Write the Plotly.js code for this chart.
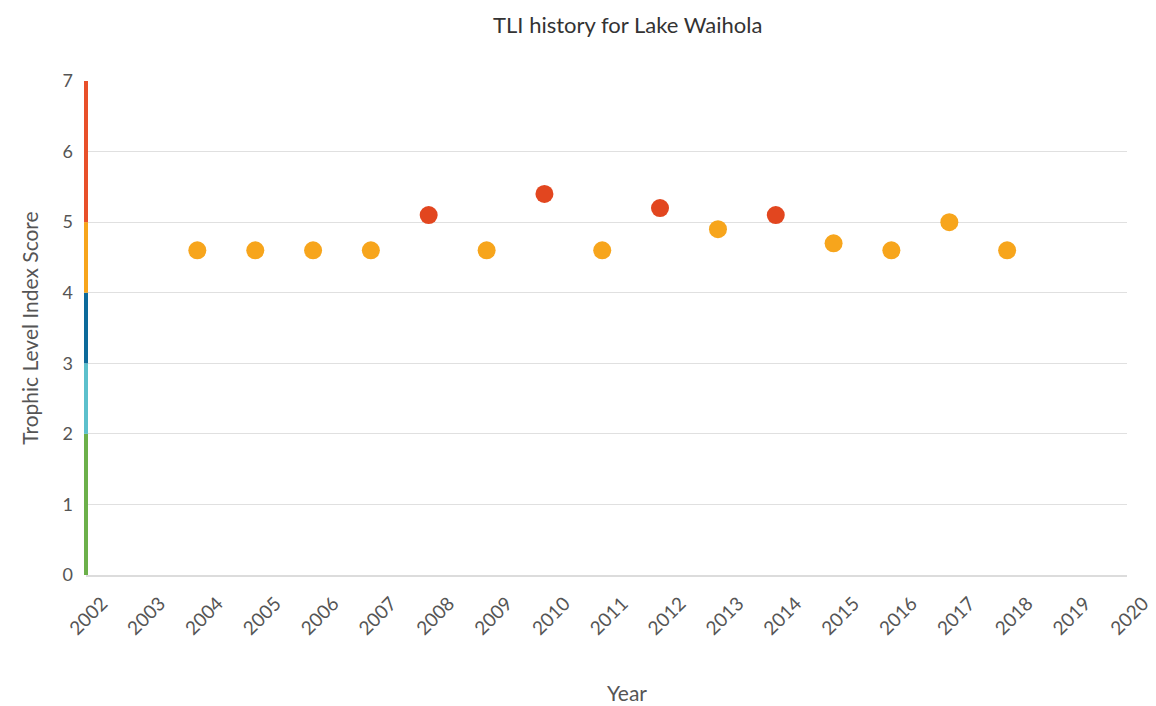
<!DOCTYPE html>
<html>
<head>
<meta charset="utf-8">
<script src="https://cdn.plot.ly/plotly-3.0.1.min.js"></script>
<style>html,body{margin:0;padding:0;background:#fff;}#chart{width:1156px;height:706px;}</style>
</head>
<body>
<div id="chart"></div>
<script>
// Sample dates and TLI scores
var sampleDates = ["2003-12-05","2004-12-05","2005-12-05","2006-12-05","2007-12-05","2008-12-05","2009-12-05","2010-12-05","2011-12-05","2012-12-05","2013-12-05","2014-12-05","2015-12-05","2016-12-05","2017-12-05"];
var tliScores = [4.6, 4.6, 4.6, 4.6, 5.1, 4.6, 5.4, 4.6, 5.2, 4.9, 5.1, 4.7, 4.6, 5.0, 4.6];

// Trophic bands along the y axis
var bandFrom = [0, 2, 3, 4, 5];
var bandTo = [2, 3, 4, 5, 7];
var bandColors = ["#6cb04a", "#5cc0cc", "#0d6a9a", "#f7a51c", "#e8502a"];
var markerBandColors = ["#6cb04a", "#5cc0cc", "#0d6a9a", "#f7a51c", "#e2461f"];

// X axis tick labels
var yearTicks = ["2002","2003","2004","2005","2006","2007","2008","2009","2010","2011","2012","2013","2014","2015","2016","2017","2018","2019","2020"];

function colorFor(v) {
  for (var i = 0; i < bandFrom.length; i++) {
    if (v > bandFrom[i] && v <= bandTo[i]) return markerBandColors[i];
  }
  return markerBandColors[0];
}

var trace = {
  x: sampleDates,
  y: tliScores,
  type: "scatter",
  mode: "markers",
  marker: { size: 18, color: tliScores.map(colorFor) },
  hoverinfo: "x+y",
  showlegend: false
};

var shapes = bandFrom.map(function (f, i) {
  return {
    type: "line", xref: "paper", yref: "y",
    x0: 0, x1: 0, y0: f, y1: bandTo[i],
    line: { color: bandColors[i], width: 4 },
    layer: "above"
  };
});

var layout = {
  width: 1156, height: 706,
  margin: { l: 86, r: 29, t: 81, b: 131 },
  paper_bgcolor: "#ffffff",
  plot_bgcolor: "#ffffff",
  font: { family: "Lato, 'Open Sans', sans-serif", color: "#555555", size: 18 },
  title: {
    text: "TLI history for Lake Waihola",
    font: { size: 22, color: "#333333" },
    x: 0.543, xanchor: "center", y: 0.964, yanchor: "middle"
  },
  xaxis: {
    type: "date",
    range: ["2002-01-01", "2020-01-01"],
    tickmode: "array",
    tickvals: yearTicks.map(function (y) { return y + "-01-01"; }),
    ticktext: yearTicks,
    tickangle: -45,
    ticklabelshift: 16,
    ticklabelstandoff: 8,
    ticklabeloverflow: "allow",
    showgrid: false,
    zeroline: false,
    showline: true,
    linecolor: "#dcdcdc",
    linewidth: 2,
    ticks: "",
    tickfont: { size: 19, color: "#555555" },
    title: { text: "" }
  },
  yaxis: {
    range: [0, 7],
    tickvals: [0, 1, 2, 3, 4, 5, 6, 7],
    showgrid: true,
    gridcolor: "#e0e0e0",
    gridwidth: 1,
    zeroline: false,
    showline: false,
    ticks: "",
    ticklabelstandoff: 12,
    tickfont: { size: 18, color: "#555555" },
    title: { text: "Trophic Level Index Score", font: { size: 21, color: "#555555" }, standoff: 18 }
  },
  annotations: [{
    text: "Year", xref: "paper", yref: "paper",
    x: (627 - 86) / 1041, y: -(692 - 575) / 494,
    xanchor: "center", yanchor: "middle", showarrow: false,
    font: { size: 21, color: "#555555" }
  }],
  shapes: shapes
};

Plotly.newPlot("chart", [trace], layout, { displayModeBar: false, staticPlot: true });
</script>
</body>
</html>
